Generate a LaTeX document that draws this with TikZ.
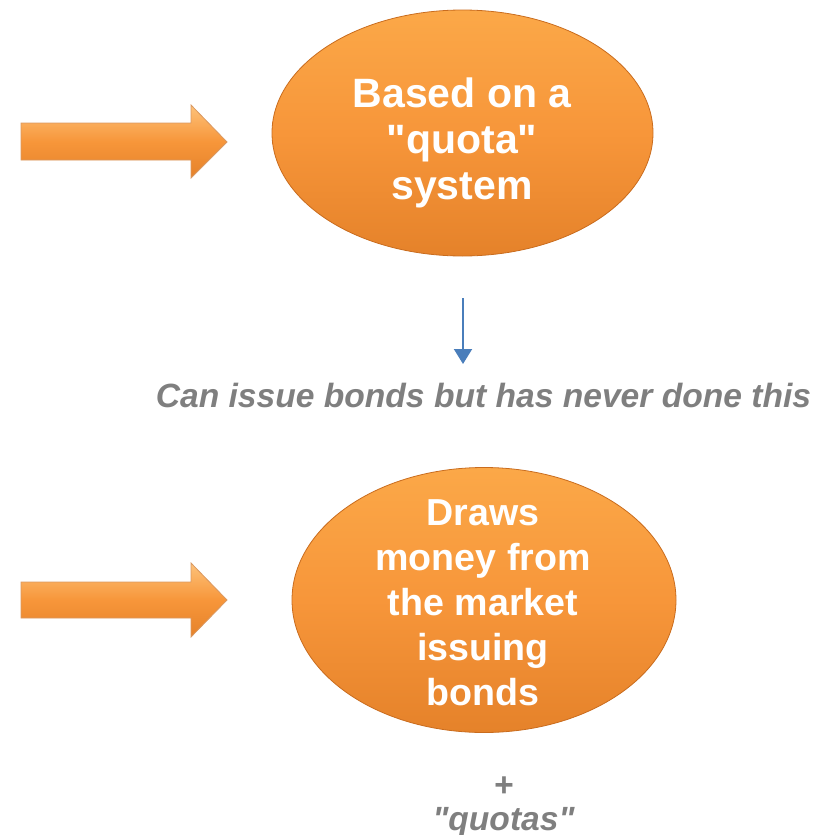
\documentclass[tikz,border=0pt]{standalone}
\usepackage{fontspec}
\setmainfont{Liberation Sans}[Ligatures=TeXOff]
\usetikzlibrary{shapes.geometric,arrows.meta}
\definecolor{orTop}{HTML}{FBA848}
\definecolor{orMid}{HTML}{F7963A}
\definecolor{orBot}{HTML}{E5822A}
\definecolor{orEdge}{HTML}{C96C1E}
\definecolor{orLight}{HTML}{FDC27A}
\definecolor{grayTxt}{HTML}{7F7F7F}
\definecolor{blueArr}{HTML}{4A7EBB}
\tikzset{
  bubble/.style={ellipse, inner sep=0pt, draw=orEdge, line width=0.4pt,
    top color=orTop, bottom color=orBot, middle color=orMid},
  bubbletext/.style={text=white, align=center, inner sep=0pt},
  fatarrow/.style={draw=orEdge!70, line width=0.4pt, top color=orLight, bottom color=orBot, middle color=orMid},
  notetext/.style={text=grayTxt, align=center, inner sep=0pt, anchor=base,
    font=\fontsize{16.8}{17}\selectfont\bfseries\itshape},
  thinarrow/.style={draw=blueArr, line width=1pt, -{Triangle[width=9pt,length=7.5pt]}}
}
\begin{document}
\begin{tikzpicture}[x=0.5pt,y=-0.5pt]
\useasboundingbox (0,0) rectangle (832,835);
% fat arrows
\path[fatarrow] (21,123) -- (191,123) -- (191,105) -- (227,142) -- (191,178) -- (191,160) -- (21,160) -- cycle;
\path[fatarrow] (21,582) -- (191,582) -- (191,563) -- (227,600) -- (191,637) -- (191,618) -- (21,618) -- cycle;
% ellipses
\node[bubble, minimum width=190.5pt, minimum height=123pt] (e1) at (462.5,133) {};
\node[bubbletext, font=\fontsize{20.5}{23}\selectfont\bfseries] (t1) at (462,143) {Based on a\\"quota"\\system};
\node[bubble, minimum width=192pt, minimum height=132.5pt] (e2) at (484,600) {};
\node[bubbletext, font=\fontsize{18.8}{22.5}\selectfont\bfseries] (t2) at (483,603) {Draws\\money from\\the market\\issuing\\bonds};
% blue arrow
\coordinate (bs) at (463,298);
\coordinate (be) at (463,364);
\draw[thinarrow] (bs) -- (be);
% notes
\node[notetext] (n1) at (483.5,407) {Can issue bonds but has never done this};
\node[notetext] (n2) at (503.5,796) {+};
\node[notetext] (n3) at (503.5,830) {"quotas"};
\end{tikzpicture}
\end{document}
